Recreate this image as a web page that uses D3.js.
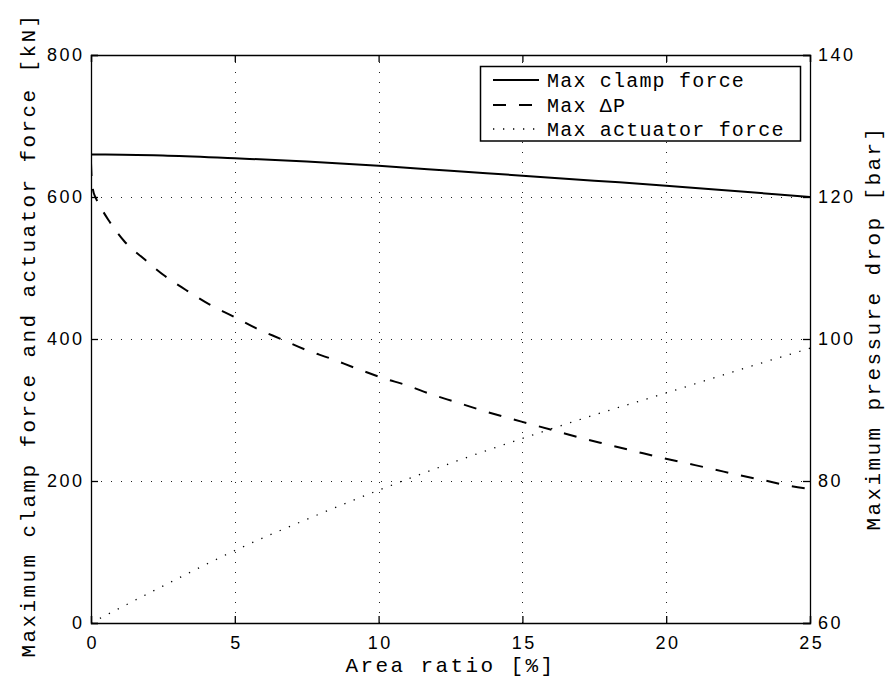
<!DOCTYPE html>
<html>
<head>
<meta charset="utf-8">
<script src="https://cdn.jsdelivr.net/npm/d3@7"></script>
<style>
  html, body { margin: 0; padding: 0; background: #fff; }
  svg { display: block; }
  .tick text { font-family: "Liberation Sans", Arial, sans-serif; font-size: 18px; letter-spacing: 2.5px; fill: #000; }
  .mono { font-family: "Liberation Mono", "Courier New", monospace; fill: #000; }
</style>
</head>
<body>
<svg id="chart" width="887" height="678"></svg>
<script>
// Area ratio [%] sample points and the three curves
const clampX = [0, 0.5, 2.5, 5, 7.5, 10, 12.5, 15, 17.5, 20, 22.5, 25];
const clampForce = [660, 660, 658.5, 654.5, 650, 644, 637, 630, 623, 616, 608, 600]; // kN

const dpX = [0, 0.02, 0.07, 0.15, 0.25, 0.4, 0.6, 1.15, 1.84, 2.56, 3.3, 4.1, 4.94, 5.75, 6.6, 7.45, 8.3, 9.2,
             10.15, 11, 11.8, 12.7, 13.55, 14.4, 15.3, 16.2, 17.1, 18, 18.9, 19.8, 20.7, 21.6, 22.5, 23.4, 24.3, 25];
const maxDeltaP = [124.8, 122.8, 121, 120, 119.2, 118.1, 116.8, 113.8, 111.3, 108.9, 106.9, 104.9, 103.2, 101.5, 100, 98.5, 97.3, 95.9,
                   94.5, 93.45, 92.25, 91.1, 90, 89, 88, 87, 86, 85.1, 84.2, 83.3, 82.5, 81.7, 80.85, 80.1, 79.3, 78.9]; // bar

const actX = [0, 2.5, 5, 7.5, 10, 12.5, 15, 17.5, 20, 22.5, 25];
const actuatorForce = [0, 52, 102, 146, 187, 225, 260, 293, 324, 356, 387]; // kN

const xTicks = [0, 5, 10, 15, 20, 25];
const yLeftTicks = [0, 200, 400, 600, 800];
const yRightTicks = [60, 80, 100, 120, 140];
const legendLabels = ["Max clamp force", "Max \u0394P", "Max actuator force"];

const svg = d3.select("#chart");
const m = { left: 91, right: 810, top: 55, bottom: 623 };

const x = d3.scaleLinear().domain([0, 25]).range([m.left, m.right]);
const yL = d3.scaleLinear().domain([0, 800]).range([m.bottom, m.top]);
const yR = d3.scaleLinear().domain([60, 140]).range([m.bottom, m.top]);

// grid
const grid = svg.append("g").attr("stroke", "#222").attr("stroke-width", 1).attr("stroke-dasharray", "1,9");
grid.selectAll("line.v").data(xTicks.slice(1, -1)).join("line")
  .attr("x1", d => Math.round(x(d)) + 0.5).attr("x2", d => Math.round(x(d)) + 0.5)
  .attr("y1", m.bottom).attr("y2", m.top);
grid.selectAll("line.h").data(yLeftTicks.slice(1, -1)).join("line")
  .attr("y1", d => Math.round(yL(d)) + 0.5).attr("y2", d => Math.round(yL(d)) + 0.5)
  .attr("x1", m.left).attr("x2", m.right);

// curves
svg.append("clipPath").attr("id", "plotclip").append("rect")
  .attr("x", m.left).attr("y", m.top).attr("width", m.right - m.left).attr("height", m.bottom - m.top);
const curves = svg.append("g").attr("clip-path", "url(#plotclip)").attr("fill", "none").attr("stroke", "#000");

const lineL = (xs) => d3.line().x((d, i) => x(xs[i])).y(d => yL(d)).curve(d3.curveMonotoneX);
const lineR = (xs) => d3.line().x((d, i) => x(xs[i])).y(d => yR(d)).curve(d3.curveMonotoneX);

curves.append("path").datum(clampForce).attr("d", lineL(clampX)).attr("stroke-width", 2);
curves.append("path").datum(maxDeltaP).attr("d", lineR(dpX)).attr("stroke-width", 2).attr("stroke-dasharray", "13,13");
curves.append("path").datum(actuatorForce).attr("d", lineL(actX)).attr("stroke-width", 1.3).attr("stroke-dasharray", "1.3,8.7");

// axes (ticks point inward)
const fmt = d3.format("d");
const axB = svg.append("g").attr("transform", `translate(0,${m.bottom})`)
  .call(d3.axisBottom(x).tickValues(xTicks).tickFormat(fmt).tickSize(-7).tickPadding(13));
const axT = svg.append("g").attr("transform", `translate(0,${m.top})`)
  .call(d3.axisTop(x).tickValues(xTicks).tickFormat("").tickSize(-7));
const axL = svg.append("g").attr("transform", `translate(${m.left},0)`)
  .call(d3.axisLeft(yL).tickValues(yLeftTicks).tickFormat(fmt).tickSize(-7).tickPadding(6.5));
const axR = svg.append("g").attr("transform", `translate(${m.right},0)`)
  .call(d3.axisRight(yR).tickValues(yRightTicks).tickFormat(fmt).tickSize(-7).tickPadding(8));
[axB, axT, axL, axR].forEach(a => {
  a.select(".domain").attr("stroke", "#000").attr("stroke-width", 1.3);
  a.selectAll(".tick line").attr("stroke", "#000").attr("stroke-width", 1.3);
});
axB.selectAll(".tick text").attr("dx", "1.25px");

// axis titles
svg.append("text").attr("class", "mono")
  .attr("x", (m.left + m.right) / 2).attr("y", 672).attr("text-anchor", "middle")
  .style("font-size", "21px").style("letter-spacing", "2.4px")
  .text("Area ratio [%]");
svg.append("text").attr("class", "mono")
  .attr("transform", "translate(35,335) rotate(-90)").attr("text-anchor", "middle")
  .style("font-size", "21px").style("letter-spacing", "2.4px")
  .text("Maximum clamp force and actuator force [kN]");
svg.append("text").attr("class", "mono")
  .attr("transform", "translate(880,328) rotate(-90)").attr("text-anchor", "middle")
  .style("font-size", "21px").style("letter-spacing", "2.4px")
  .text("Maximum pressure drop [bar]");

// legend
const lg = svg.append("g");
lg.append("rect").attr("x", 480.5).attr("y", 66.5).attr("width", 320).attr("height", 74.5)
  .attr("fill", "#fff").attr("stroke", "#000").attr("stroke-width", 1.5);
const rowsY = [80, 105, 129];
const styles = [
  { w: 2, dash: null },
  { w: 2, dash: "13,13" },
  { w: 1.3, dash: "1.3,8.7" }
];
legendLabels.forEach((label, i) => {
  lg.append("line").attr("x1", 493).attr("x2", 539).attr("y1", rowsY[i]).attr("y2", rowsY[i])
    .attr("stroke", "#000").attr("stroke-width", styles[i].w)
    .attr("stroke-dasharray", styles[i].dash);
  lg.append("text").attr("class", "mono").attr("x", 547).attr("y", rowsY[i] + 7)
    .style("font-size", "20px").style("letter-spacing", "1.2px")
    .text(label);
});
</script>
</body>
</html>
